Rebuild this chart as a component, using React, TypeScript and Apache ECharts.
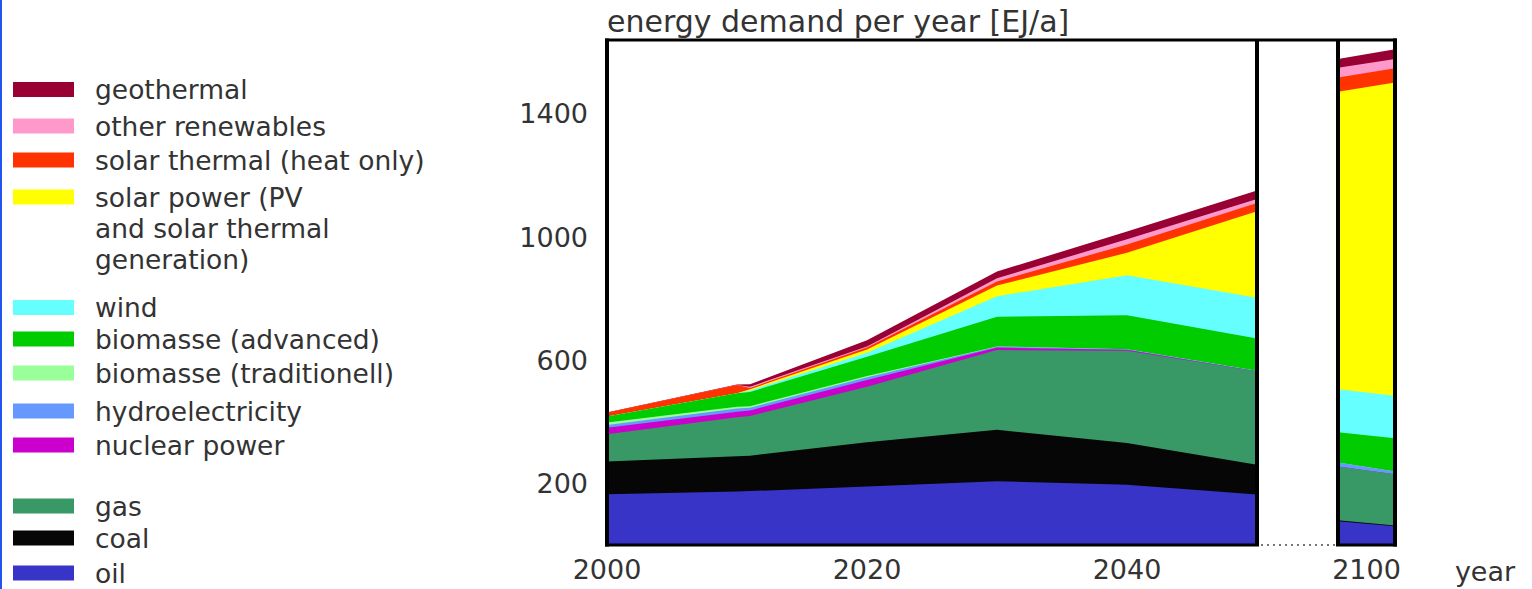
import React, { useEffect, useRef } from "react";
import * as echarts from "echarts";

// x positions (years) of the main panel and of the 2100 column
const years = [2000, 2010, 2011, 2020, 2030, 2040, 2050];
const columnYears = [2095, 2105];

// tick labels
const xTickLabels = ["2000", "2020", "2040"];
const columnTickLabels = ["2100"];
const yTickLabels = ["200", "600", "1000", "1400"];

// energy demand per source, EJ/a (stack order bottom -> top)
const oil = [165, 174, 175, 190, 207, 196, 164];
const coal = [106, 114, 115, 144, 167, 135, 97];
const gas = [89, 127, 129, 180, 259, 300, 303];
const nuclear = [21, 18, 18, 22, 8, 3, 0];
const hydro = [9, 10, 9, 9, 3, 2, 2];
const bioTrad = [8, 6, 5, 4, 1, 0, 0];
const bioAdv = [19, 44, 46, 62, 96, 110, 105];
const wind = [0, 0, 5, 13, 67, 130, 132];
const solarPower = [0, 0, 4, 11, 35, 73, 281];
const solarThermal = [13, 27, 4, 6, 13, 27, 27];
const otherRen = [0, 0, 4, 4, 10, 17, 13];
const geothermal = [0, 1, 8, 20, 22, 25, 27];

// 2100 column
const oil2100 = [77, 61];
const coal2100 = [3, 2];
const gas2100 = [175, 167];
const nuclear2100 = [0, 0];
const hydro2100 = [13, 9];
const bioTrad2100 = [0, 0];
const bioAdv2100 = [98, 108];
const wind2100 = [140, 138];
const solarPower2100 = [966, 1017];
const solarThermal2100 = [46, 46];
const otherRen2100 = [32, 30];
const geothermal2100 = [28, 32];

const seriesNames = [
  "oil",
  "coal",
  "gas",
  "nuclear power",
  "hydroelectricity",
  "biomasse (traditionell)",
  "biomasse (advanced)",
  "wind",
  "solar power (PV and solar thermal generation)",
  "solar thermal (heat only)",
  "other renewables",
  "geothermal",
];
const legendLabels = [
  "oil",
  "coal",
  "gas",
  "nuclear power",
  "hydroelectricity",
  "biomasse (traditionell)",
  "biomasse (advanced)",
  "wind",
  "solar power (PV\nand solar thermal\ngeneration)",
  "solar thermal (heat only)",
  "other renewables",
  "geothermal",
];
const colors = [
  "#3834C8",
  "#060606",
  "#389966",
  "#CC00CC",
  "#6699FF",
  "#99FF99",
  "#00CC00",
  "#66FFFF",
  "#FFFF00",
  "#FF3300",
  "#FF99CC",
  "#990033",
];

// layout only (legend row centres, same order as seriesNames)
const legendRowY = [573, 538, 506, 445, 411, 373, 339, 307.5, 197, 160, 126, 89.5];

const FONT = "DejaVu Sans";
const TEXT = "#333333";

function cumulate(rows: number[][]): number[][] {
  const out: number[][] = [];
  let acc = rows[0].map(() => 0);
  rows.forEach((r) => {
    acc = acc.map((a, i) => a + r[i]);
    out.push(acc);
  });
  return out;
}

export default function App() {
  const ref = useRef<HTMLDivElement>(null);

  useEffect(() => {
    if (!ref.current) return;
    const chart = echarts.init(ref.current, undefined, { renderer: "svg" });

    const mainRows = [oil, coal, gas, nuclear, hydro, bioTrad, bioAdv, wind, solarPower, solarThermal, otherRen, geothermal];
    const colRows = [
      oil2100, coal2100, gas2100, nuclear2100, hydro2100, bioTrad2100, bioAdv2100,
      wind2100, solarPower2100, solarThermal2100, otherRen2100, geothermal2100,
    ];
    const mainCum = cumulate(mainRows);
    const colCum = cumulate(colRows);

    const series: any[] = [];
    for (let k = mainRows.length - 1; k >= 0; k--) {
      series.push({
        name: seriesNames[k],
        type: "line",
        xAxisIndex: 0,
        yAxisIndex: 0,
        data: years.map((y, i) => [y, mainCum[k][i]]),
        showSymbol: false,
        symbol: "none",
        lineStyle: { width: 0 },
        areaStyle: { color: colors[k], opacity: 1 },
        silent: true,
      });
      series.push({
        name: seriesNames[k],
        type: "line",
        xAxisIndex: 1,
        yAxisIndex: 1,
        data: columnYears.map((y, i) => [y, colCum[k][i]]),
        showSymbol: false,
        symbol: "none",
        lineStyle: { width: 0 },
        areaStyle: { color: colors[k], opacity: 1 },
        silent: true,
      });
    }

    const line = (x1: number, y1: number, x2: number, y2: number, w: number, extra: any = {}) => ({
      type: "line",
      shape: { x1, y1, x2, y2 },
      style: { stroke: "#000", lineWidth: w, ...extra },
      z: 100,
      silent: true,
    });

    const graphic: any[] = [
      { type: "rect", shape: { x: 0, y: 0, width: 2, height: 589 }, style: { fill: "#2255EE" }, z: 100 },
      // frame
      line(605, 40, 1397, 40, 3),
      line(607, 38.5, 607, 546.5, 4),
      line(605, 545, 1259, 545, 3),
      line(1257, 40, 1257, 545, 4),
      line(1338, 40, 1338, 545, 4),
      line(1395, 38.5, 1395, 546.5, 4),
      line(1336, 545, 1397, 545, 3),
      line(1261, 545, 1336, 545, 2, { stroke: "#777", lineDash: [2, 4] }),
      // titles
      {
        type: "text",
        x: 607,
        y: 21,
        style: { text: "energy demand per year [EJ/a]", fontSize: 30, fontFamily: FONT, fill: TEXT, verticalAlign: "middle" },
        z: 100,
      },
      {
        type: "text",
        x: 1485,
        y: 571,
        style: { text: "year", fontSize: 27, fontFamily: FONT, fill: TEXT, align: "center", verticalAlign: "middle" },
        z: 100,
      },
    ];

    for (let k = seriesNames.length - 1; k >= 0; k--) {
      const cy = legendRowY[k];
      graphic.push({
        type: "rect",
        shape: { x: 13, y: cy - 7.5, width: 61, height: 15 },
        style: { fill: colors[k] },
        z: 100,
      });
      const multi = legendLabels[k].includes("\n");
      graphic.push({
        type: "text",
        x: 95,
        y: multi ? cy - 15.5 : cy,
        style: {
          text: legendLabels[k],
          fontSize: 26.5,
          fontFamily: FONT,
          fill: TEXT,
          lineHeight: 31,
          verticalAlign: multi ? "top" : "middle",
        },
        z: 100,
      });
    }

    const labelStyle = { fontSize: 27, fontFamily: FONT, color: TEXT };

    chart.setOption({
      animation: false,
      backgroundColor: "#ffffff",
      grid: [
        { left: 607, top: 40, width: 650, height: 505, show: false, outerBoundsMode: "none" },
        { left: 1338, top: 40, width: 57, height: 505, show: false, outerBoundsMode: "none" },
      ],
      xAxis: [
        {
          type: "value",
          gridIndex: 0,
          min: 2000,
          max: 2050,
          interval: 20,
          axisLine: { show: false },
          axisTick: { show: false },
          splitLine: { show: false },
          axisLabel: {
            ...labelStyle,
            margin: 11,
            formatter: (v: number) => (xTickLabels.includes(String(v)) ? String(v) : ""),
          },
        },
        {
          type: "value",
          gridIndex: 1,
          min: 2095,
          max: 2105,
          interval: 5,
          axisLine: { show: false },
          axisTick: { show: false },
          splitLine: { show: false },
          axisLabel: {
            ...labelStyle,
            margin: 11,
            formatter: (v: number) => (columnTickLabels.includes(String(v)) ? String(v) : ""),
          },
        },
      ],
      yAxis: [
        {
          type: "value",
          gridIndex: 0,
          min: 0,
          max: 1640,
          interval: 200,
          axisLine: { show: false },
          axisTick: { show: false },
          splitLine: { show: false },
          axisLabel: {
            ...labelStyle,
            margin: 19,
            formatter: (v: number) => (yTickLabels.includes(String(v)) ? String(v) : ""),
          },
        },
        {
          type: "value",
          gridIndex: 1,
          min: 0,
          max: 1640,
          interval: 200,
          axisLine: { show: false },
          axisTick: { show: false },
          splitLine: { show: false },
          axisLabel: { show: false },
        },
      ],
      series,
      graphic,
    });

    return () => chart.dispose();
  }, []);

  return (
    <div
      ref={ref}
      style={{ position: "fixed", left: 0, top: 0, width: 1532, height: 589, background: "#fff" }}
    />
  );
}
